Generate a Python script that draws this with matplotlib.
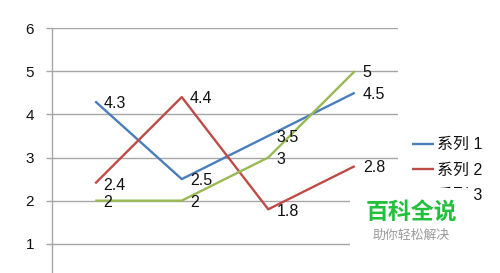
import matplotlib
matplotlib.use("Agg")
import matplotlib.pyplot as plt
from matplotlib.patches import Rectangle

categories = ["1", "2", "3", "4"]
series_names = ["系列 1", "系列 2", "系列 3"]
s1 = [4.3, 2.5, 3.5, 4.5]
s2 = [2.4, 4.4, 1.8, 2.8]
s3 = [2, 2, 3, 5]
colors = ["#4A7EBB", "#BE4B48", "#98B954"]
y_ticks = [1, 2, 3, 4, 5, 6]

plt.rcParams['font.family'] = ['Liberation Sans', 'Noto Sans CJK SC', 'DejaVu Sans']

W, H = 500, 273
fig = plt.figure(figsize=(W / 100, H / 100), dpi=100)
fig.patch.set_facecolor("white")

def fx(px):
    return px / W

def fy(py):
    return 1 - py / H

left, right, top, bottom = 52, 398, 28, 287
ax = fig.add_axes([fx(left), fy(bottom), fx(right - left), fy(top) - fy(bottom)])

x = list(range(len(categories)))
for vals, name, c in zip([s1, s2, s3], series_names, colors):
    ax.plot(x, vals, color=c, lw=1.7, label=name, solid_capstyle="butt", zorder=3)
    for xi, v in zip(x, vals):
        ax.annotate(f"{v:g}", (xi, v), xytext=(5.8, -1.3), textcoords="offset points",
                    ha="left", va="center", fontsize=11.5, color="#111111", zorder=4)

ax.set_xlim(-0.5, len(categories) - 0.5)
ax.set_ylim(0, 6)
ax.set_yticks(y_ticks)
ax.set_xticks([])
ax.yaxis.grid(True, color="#A6A6A6", lw=1.0)
ax.set_axisbelow(True)
for s in ["top", "right", "bottom"]:
    ax.spines[s].set_visible(False)
ax.spines["left"].set_color("#A6A6A6")
ax.spines["left"].set_linewidth(1.0)
ax.tick_params(axis="y", length=4.3, width=1.0, color="#A6A6A6", pad=8.5,
               labelsize=11, labelcolor="#111111")

leg = fig.legend(loc="center left", bbox_to_anchor=(fx(412), fy(170)),
                 frameon=False, fontsize=11.5, handlelength=1.4, handletextpad=0.15,
                 labelspacing=0.65, borderpad=0, borderaxespad=0)
for t in leg.get_texts():
    t.set_color("#111111")

# watermark overlay
fig.patches.append(Rectangle((fx(350), 0), fx(470) - fx(350), fy(188), transform=fig.transFigure,
                             facecolor="white", edgecolor="none", zorder=10))
fig.text(fx(411), fy(212), "百科全说", ha="center", va="center", fontsize=16.5,
         fontweight="bold", color="#22C03C", family=["Noto Sans CJK SC"], zorder=11)
fig.text(fx(411), fy(235), "助你轻松解决", ha="center", va="center", fontsize=9.3,
         color="#9A9A9A", family=["Noto Sans CJK SC"], zorder=11)

fig.savefig("out.png", dpi=100, facecolor="white")
